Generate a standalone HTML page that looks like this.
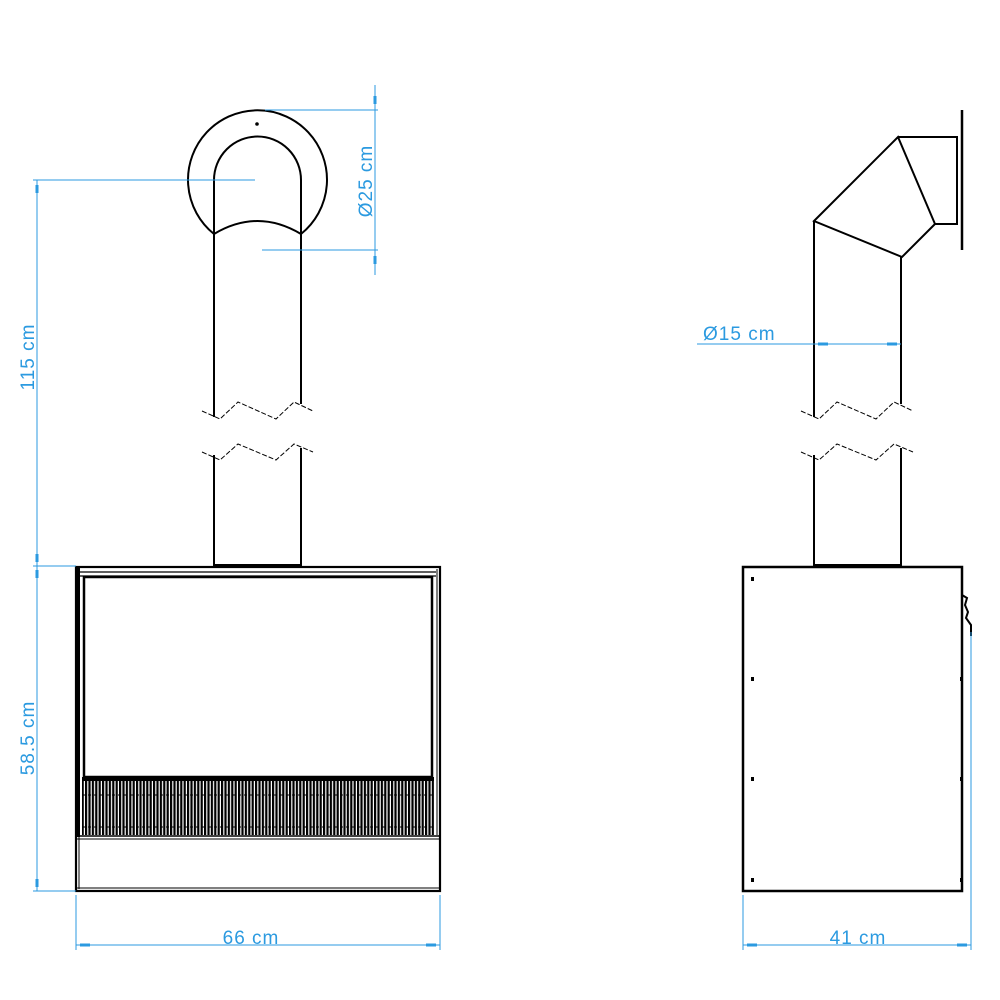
<!DOCTYPE html>
<html><head><meta charset="utf-8"><style>
html,body{margin:0;padding:0;background:#fff;}
svg{display:block;}
text{font-family:"Liberation Sans",sans-serif;font-size:19px;letter-spacing:1px;fill:#2b9ae0;}
</style></head><body>
<svg width="1000" height="1000" viewBox="0 0 1000 1000" xmlns="http://www.w3.org/2000/svg">
<defs>
<pattern id="gr" x="0" y="0" width="3.4" height="60" patternUnits="userSpaceOnUse">
<rect x="0" y="0" width="2.2" height="60" fill="#000"/>
</pattern>
</defs>
<g fill="none" stroke="#000" stroke-width="2">
<path d="M214,234 A69.5,69.5 0 1 1 301,234"/>
<path d="M214,234 L214,180 A43.5,43.5 0 0 1 301,180 L301,234"/>
<path d="M214,234 Q257.5,208 301,234"/>
<line x1="214" y1="234" x2="214" y2="417"/>
<line x1="301" y1="234" x2="301" y2="404"/>
<line x1="214" y1="455" x2="214" y2="566"/>
<line x1="301" y1="448" x2="301" y2="566"/>
<polygon points="814,221 898,137 935,224 902,257"/>
<line x1="898" y1="137" x2="958" y2="137"/>
<line x1="935" y1="224" x2="958" y2="224"/>
<line x1="957" y1="137" x2="957" y2="224"/>
<line x1="962" y1="110" x2="962" y2="250" stroke-width="2.5"/>
<line x1="814" y1="221" x2="814" y2="417"/>
<line x1="901" y1="257" x2="901" y2="404"/>
<line x1="814" y1="455" x2="814" y2="566"/>
<line x1="901" y1="448" x2="901" y2="566"/>
</g>
<circle cx="257" cy="124" r="1.8" fill="#000"/>
<g fill="none" stroke="#000" stroke-width="1" stroke-dasharray="5,2">
<polyline points="202,411 220,419 238,402 276,419 294,402 313,411"/>
<polyline points="202,452 220,460 238,444 276,460 294,444 313,452"/>
<polyline points="801,411 819,419 837,402 876,419 894,402 913,411"/>
<polyline points="801,452 819,460 837,444 876,460 894,444 913,452"/>
</g>
<g fill="none" stroke="#000">
<rect x="76" y="567" width="364" height="324" stroke-width="2.2"/>
<line x1="79" y1="569" x2="79" y2="889" stroke-width="1"/>
<line x1="437" y1="569" x2="437" y2="835" stroke-width="1"/>
<line x1="80" y1="572" x2="436" y2="572" stroke-width="1.2"/>
<line x1="80" y1="576" x2="436" y2="576" stroke-width="1.2"/>
<rect x="84" y="577" width="348" height="200" stroke-width="2.5"/>
<line x1="76" y1="836" x2="440" y2="836" stroke-width="1.5"/>
<line x1="76" y1="839" x2="440" y2="839" stroke-width="1"/>
<line x1="76" y1="888" x2="440" y2="888" stroke-width="1"/>
</g>
<rect x="82" y="777" width="352" height="58" fill="url(#gr)"/>
<rect x="82" y="777" width="352" height="4" fill="#000"/>
<line x1="82" y1="795" x2="434" y2="795" stroke="#000" stroke-width="1" stroke-dasharray="3,3"/>
<line x1="82" y1="827" x2="434" y2="827" stroke="#000" stroke-width="1" stroke-dasharray="3,3"/>
<rect x="76" y="567" width="4" height="270" fill="#000"/>
<rect x="214" y="564" width="87" height="3" fill="#000"/>
<rect x="743" y="567" width="219" height="324" fill="none" stroke="#000" stroke-width="2.5"/>
<rect x="814" y="564" width="87" height="4" fill="#000"/>
<g fill="#000">
<rect x="751" y="577" width="3" height="4"/><rect x="751" y="677" width="3" height="4"/>
<rect x="751" y="777" width="3" height="4"/><rect x="751" y="878" width="3" height="4"/>
<rect x="960" y="677" width="2" height="4"/><rect x="960" y="777" width="2" height="4"/>
<rect x="960" y="878" width="2" height="4"/>
</g>
<path d="M962,595 L967,598 L965,605 L968,612 L966,618 L971,625 L971,636" fill="none" stroke="#000" stroke-width="2"/>
<g stroke="#2b9ae0" stroke-width="1" fill="none">
<line x1="375" y1="85" x2="375" y2="275"/>
<line x1="265" y1="110" x2="378" y2="110"/>
<line x1="262" y1="250" x2="378" y2="250"/>
<line x1="37" y1="180" x2="37" y2="891"/>
<line x1="33" y1="180" x2="255" y2="180"/>
<line x1="33" y1="566" x2="76" y2="566"/>
<line x1="33" y1="891" x2="76" y2="891"/>
<line x1="76" y1="895" x2="76" y2="950"/>
<line x1="440" y1="895" x2="440" y2="950"/>
<line x1="76" y1="945" x2="440" y2="945"/>
<line x1="743" y1="895" x2="743" y2="950"/>
<line x1="971" y1="632" x2="971" y2="950"/>
<line x1="743" y1="945" x2="971" y2="945"/>
<line x1="697" y1="344" x2="901" y2="344"/>
</g>
<g fill="#2b9ae0">
<rect x="373.5" y="96" width="3" height="8"/><rect x="373.5" y="256" width="3" height="8"/>
<rect x="35.5" y="185" width="3" height="8"/><rect x="35.5" y="554" width="3" height="8"/>
<rect x="35.5" y="570" width="3" height="8"/><rect x="35.5" y="879" width="3" height="8"/>
<rect x="80" y="943.5" width="10" height="3"/><rect x="426" y="943.5" width="10" height="3"/>
<rect x="747" y="943.5" width="10" height="3"/><rect x="957" y="943.5" width="10" height="3"/>
<rect x="818" y="342.5" width="10" height="3"/><rect x="887" y="342.5" width="10" height="3"/>
</g>
<text x="251" y="944" text-anchor="middle">66 cm</text>
<text x="858" y="944" text-anchor="middle">41 cm</text>
<text x="703" y="340">Ø15 cm</text>
<text transform="translate(34,357) rotate(-90)" text-anchor="middle">115 cm</text>
<text transform="translate(34,738) rotate(-90)" text-anchor="middle">58.5 cm</text>
<text transform="translate(372,181) rotate(-90)" text-anchor="middle">Ø25 cm</text>
</svg>
</body></html>
